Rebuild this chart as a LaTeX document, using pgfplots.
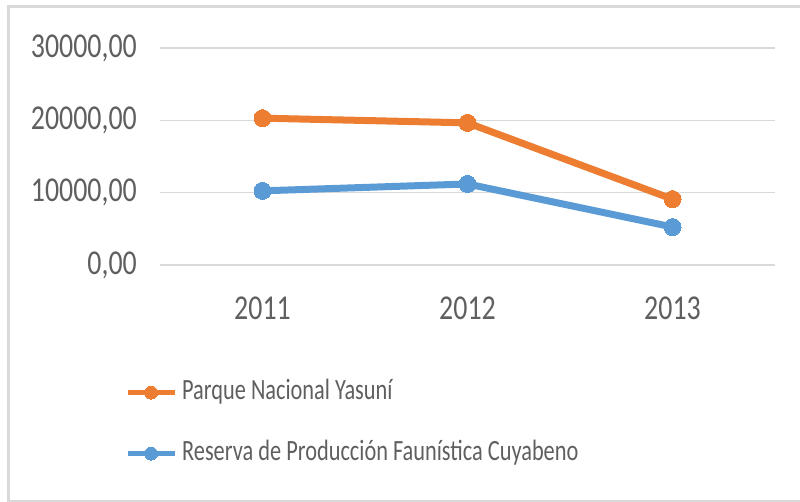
\documentclass[border=0pt]{standalone}
\usepackage{pgfplots}
\pgfplotsset{compat=1.18}
\usepackage{fontspec}
\setmainfont{Carlito}[FakeStretch=0.8]
\newfontfamily\legfont{Carlito}[FakeStretch=0.76]
\definecolor{orng}{HTML}{ED7D31}
\definecolor{blu}{HTML}{5B9BD5}
\definecolor{grd}{HTML}{D9D9D9}
\definecolor{txt}{HTML}{5F5F5F}
\begin{document}
\begin{tikzpicture}[x=1bp,y=1bp]
\useasboundingbox (0,0) rectangle (800,502);
\draw[grd, line width=2.5bp] (800,495.5) -- (8.5,495.5) -- (8.5,1.2) -- (800,1.2);
\begin{axis}[
  at={(160bp,237bp)}, anchor=south west,
  scale only axis, width=615bp, height=217bp,
  xmin=-0.5, xmax=2.5, ymin=0, ymax=30000,
  scaled y ticks=false,
  xtick={0,1,2}, xticklabels={2011,2012,2013},
  ytick={0,10000,20000,30000},
  yticklabels={{0,00},{10000,00},{20000,00},{30000,00}},
  axis line style={draw=none},
  major tick length=0pt,
  ymajorgrids, grid style={grd, line width=1.5bp},
  tick label style={font=\fontsize{35}{40}\selectfont, text=txt, inner sep=0pt},
  yticklabel style={xshift=-23bp},
  xticklabel style={yshift=-32bp},
  legend cell align=left,
  legend style={at={(-0.057,-0.525)}, anchor=north west, draw=none, fill=none,
    inner sep=0pt, row sep=34bp, column sep=5bp,
    font=\legfont\fontsize{29.5}{32}\selectfont, text=txt,
    nodes={inner sep=0pt, text height=20bp, text depth=7bp}},
  legend image code/.code={\draw[#1, line width=5bp, mark size=6.5bp, mark repeat=2, mark phase=2] plot coordinates {(0bp,0bp) (23.5bp,0bp) (47bp,0bp)};},
]
\addplot[orng, line width=7bp, mark=*, mark size=8.5bp, mark options={line width=0pt, fill=orng}] coordinates {(0,20300) (1,19650) (2,9100)};
\addlegendentry{Parque Nacional Yasuní}
\addplot[blu, line width=7bp, mark=*, mark size=8.5bp, mark options={line width=0pt, fill=blu}] coordinates {(0,10250) (1,11200) (2,5250)};
\addlegendentry{Reserva de Producción Faunística Cuyabeno}
\end{axis}
\end{tikzpicture}
\end{document}
